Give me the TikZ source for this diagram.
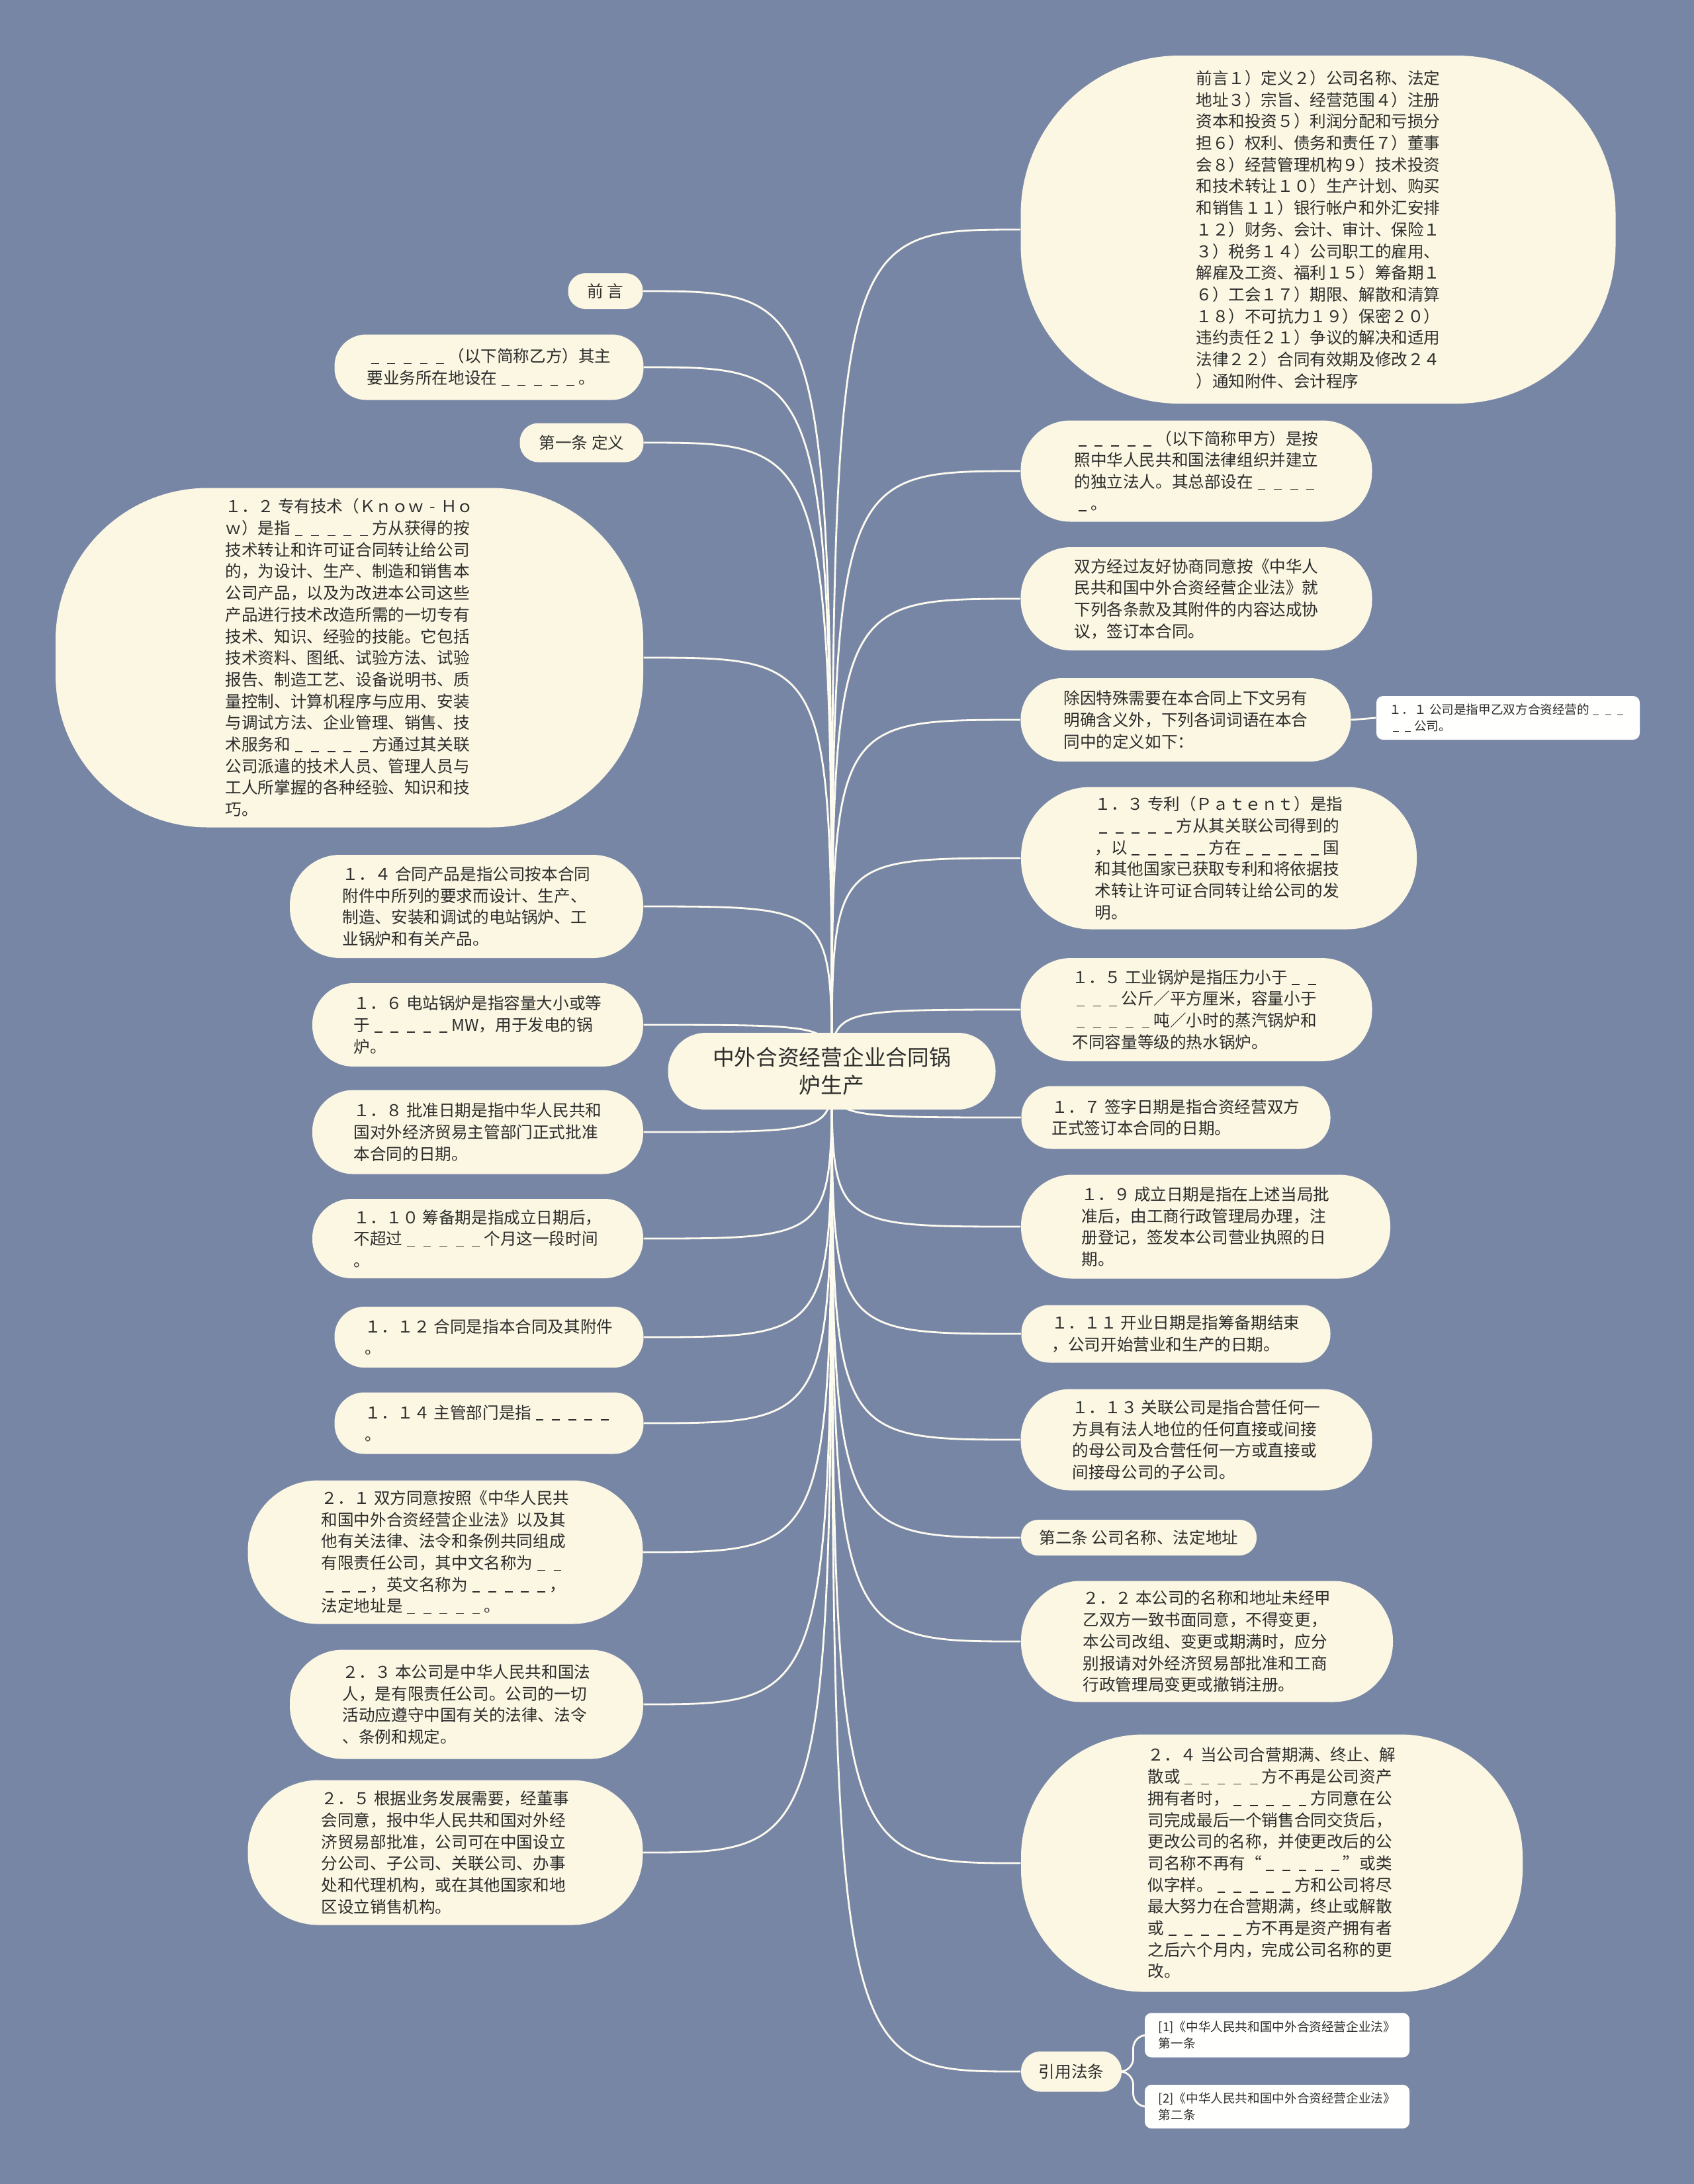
\documentclass[tikz,border=0pt]{standalone}
\usepackage{fontspec}
\setmainfont{Noto Sans CJK SC}
\usetikzlibrary{calc}
\definecolor{bgcol}{RGB}{120,134,166}
\definecolor{leafcol}{RGB}{251,247,226}
\definecolor{linkcol}{RGB}{253,251,240}
\definecolor{inkcol}{RGB}{45,45,45}
\definecolor{notecol}{RGB}{255,255,253}
\newcommand\udash{\makebox[1em][c]{\rule[-0.1em]{0.48em}{0.06em}}}
\newcommand\udashes{\udash\udash\udash\udash\udash}
\pgfdeclarelayer{bg}
\pgfsetlayers{bg,main}
\tikzset{
  leaf/.style n args={3}{fill=leafcol, text=inkcol, align=left, inner sep=0pt,
    font=\fontsize{7}{9.3}\selectfont,
    minimum width=#1cm, minimum height=#2cm, rounded corners=#3cm},
  note/.style n args={2}{fill=notecol, text=inkcol, align=left, inner sep=0pt,
    font=\fontsize{5.3}{7.2}\selectfont,
    minimum width=#1cm, minimum height=#2cm, rounded corners=0.1cm},
  link/.style={draw=linkcol, line width=0.8pt},
}
\begin{document}
\begin{tikzpicture}
  \useasboundingbox (0,0) rectangle (25.60,-33.01);
  \begin{pgfonlayer}{bg}
    \fill[bgcol] (0,0) rectangle (25.60,-33.01);
  \end{pgfonlayer}

  % root
  \node[leaf={4.95}{1.16}{0.57}, align=center, font=\fontsize{9.3}{12}\selectfont]
    (root) at (12.57,-16.19) {中外合资经营企业合同锅\\炉生产};

  % left branch
  \node[leaf={1.13}{0.54}{0.26}] (pre) at (9.15,-4.40) {前 言};
  \node[leaf={4.67}{0.99}{0.48}] (yi) at (7.39,-5.55)
    {\udashes（以下简称乙方）其主\\要业务所在地设在\udashes。};
  \node[leaf={1.87}{0.59}{0.28}] (art1) at (8.79,-6.69) {第一条 定义};
  \node[leaf={8.88}{5.13}{2.3}] (kh) at (5.28,-9.94)
    {１．２ 专有技术（Ｋｎｏｗ\makebox[1em]{-}Ｈｏ\\ｗ）是指\udashes 方从获得的按\\
     技术转让和许可证合同转让给公司\\的，为设计、生产、制造和销售本\\
     公司产品，以及为改进本公司这些\\产品进行技术改造所需的一切专有\\
     技术、知识、经验的技能。它包括\\技术资料、图纸、试验方法、试验\\
     报告、制造工艺、设备说明书、质\\量控制、计算机程序与应用、安装\\
     与调试方法、企业管理、销售、技\\术服务和\udashes 方通过其关联\\
     公司派遣的技术人员、管理人员与\\工人所掌握的各种经验、知识和技\\巧。};
  \node[leaf={5.34}{1.56}{0.76}] (p14) at (7.05,-13.70)
    {１．４ 合同产品是指公司按本合同\\附件中所列的要求而设计、生产、\\
     制造、安装和调试的电站锅炉、工\\业锅炉和有关产品。};
  \node[leaf={5.00}{1.26}{0.62}] (p16) at (7.22,-15.49)
    {１．６ 电站锅炉是指容量大小或等\\于\udashes MW，用于发电的锅\\炉。};
  \node[leaf={5.00}{1.27}{0.62}] (p18) at (7.22,-17.11)
    {１．８ 批准日期是指中华人民共和\\国对外经济贸易主管部门正式批准\\本合同的日期。};
  \node[leaf={5.00}{1.20}{0.59}] (p110) at (7.22,-18.72)
    {１．１０ 筹备期是指成立日期后，\\不超过\udashes 个月这一段时间\\。};
  \node[leaf={4.67}{0.92}{0.45}] (p112) at (7.39,-20.21)
    {１．１２ 合同是指本合同及其附件\\。};
  \node[leaf={4.67}{0.93}{0.45}] (p114) at (7.39,-21.51)
    {１．１４ 主管部门是指\udashes\\。};
  \node[leaf={5.97}{2.17}{1.06}] (p21) at (6.73,-23.46)
    {２．１ 双方同意按照《中华人民共\\和国中外合资经营企业法》以及其\\
     他有关法律、法令和条例共同组成\\有限责任公司，其中文名称为\udash\udash\\
     \udash\udash\udash，英文名称为\udashes，\\法定地址是\udashes。};
  \node[leaf={5.34}{1.65}{0.80}] (p23) at (7.05,-25.76)
    {２．３ 本公司是中华人民共和国法\\人，是有限责任公司。公司的一切\\
     活动应遵守中国有关的法律、法令\\、条例和规定。};
  \node[leaf={5.97}{2.19}{1.07}] (p25) at (6.73,-28.00)
    {２．５ 根据业务发展需要，经董事\\会同意，报中华人民共和国对外经\\
     济贸易部批准，公司可在中国设立\\分公司、子公司、关联公司、办事\\
     处和代理机构，或在其他国家和地\\区设立销售机构。};

  % right branch
  \node[leaf={8.99}{5.26}{2.4}] (toc) at (19.92,-3.47)
    {前言１）定义２）公司名称、法定\\地址３）宗旨、经营范围４）注册\\
     资本和投资５）利润分配和亏损分\\担６）权利、债务和责任７）董事\\
     会８）经营管理机构９）技术投资\\和技术转让１０）生产计划、购买\\
     和销售１１）银行帐户和外汇安排\\１２）财务、会计、审计、保险１\\
     ３）税务１４）公司职工的雇用、\\解雇及工资、福利１５）筹备期１\\
     ６）工会１７）期限、解散和清算\\１８）不可抗力１９）保密２０）\\
     违约责任２１）争议的解决和适用\\法律２２）合同有效期及修改２４\\
     ）通知附件、会计程序};
  \node[leaf={5.31}{1.53}{0.75}] (jia) at (18.08,-7.12)
    {\udashes（以下简称甲方）是按\\照中华人民共和国法律组织并建立\\
     的独立法人。其总部设在\udash\udash\udash\udash\\\udash。};
  \node[leaf={5.31}{1.56}{0.76}] (both) at (18.08,-9.05)
    {双方经过友好协商同意按《中华人\\民共和国中外合资经营企业法》就\\
     下列各条款及其附件的内容达成协\\议，签订本合同。};
  \node[leaf={4.99}{1.26}{0.62}] (defs) at (17.92,-10.88)
    {除因特殊需要在本合同上下文另有\\明确含义外，下列各词词语在本合\\同中的定义如下：};
  \node[note={3.98}{0.66}] (p11) at (22.79,-10.85)
    {１．１ 公司是指甲乙双方合资经营的\udash\udash\udash\\\udash\udash 公司。};
  \node[leaf={5.98}{2.15}{1.05}] (p13) at (18.42,-12.97)
    {１．３ 专利（Ｐａｔｅｎｔ）是指\\\udashes 方从其关联公司得到的\\
     ，以\udashes 方在\udashes 国\\和其他国家已获取专利和将依据技\\
     术转让许可证合同转让给公司的发\\明。};
  \node[leaf={5.31}{1.56}{0.76}] (p15) at (18.08,-15.26)
    {１．５ 工业锅炉是指压力小于\udash\udash\\\udash\udash\udash 公斤／平方厘米，容量小于\\
     \udashes 吨／小时的蒸汽锅炉和\\不同容量等级的热水锅炉。};
  \node[leaf={4.67}{0.95}{0.46}] (p17) at (17.77,-16.89)
    {１．７ 签字日期是指合资经营双方\\正式签订本合同的日期。};
  \node[leaf={5.58}{1.57}{0.77}] (p19) at (18.22,-18.54)
    {１．９ 成立日期是指在上述当局批\\准后，由工商行政管理局办理，注\\
     册登记，签发本公司营业执照的日\\期。};
  \node[leaf={4.67}{0.87}{0.42}] (p111) at (17.77,-20.16)
    {１．１１ 开业日期是指筹备期结束\\，公司开始营业和生产的日期。};
  \node[leaf={5.31}{1.53}{0.75}] (p113) at (18.08,-21.76)
    {１．１３ 关联公司是指合营任何一\\方具有法人地位的任何直接或间接\\
     的母公司及合营任何一方或直接或\\间接母公司的子公司。};
  \node[leaf={3.56}{0.54}{0.26}] (art2) at (17.21,-23.24) {第二条 公司名称、法定地址};
  \node[leaf={5.62}{1.83}{0.90}] (p22) at (18.24,-24.81)
    {２．２ 本公司的名称和地址未经甲\\乙双方一致书面同意，不得变更，\\
     本公司改组、变更或期满时，应分\\别报请对外经济贸易部批准和工商\\
     行政管理局变更或撤销注册。};
  \node[leaf={7.58}{3.89}{1.85}] (p24) at (19.22,-28.16)
    {２．４ 当公司合营期满、终止、解\\散或\udashes 方不再是公司资产\\
     拥有者时，\udashes 方同意在公\\司完成最后一个销售合同交货后，\\
     更改公司的名称，并使更改后的公\\司名称不再有“\udashes”或类\\
     似字样。\udashes 方和公司将尽\\最大努力在合营期满，终止或解散\\
     或\udashes 方不再是资产拥有者\\之后六个月内，完成公司名称的更\\改。};
  \node[leaf={1.52}{0.61}{0.30}] (cite) at (16.19,-31.31) {引用法条};
  \node[note={4.00}{0.67}] (ref1) at (19.30,-30.76)
    {[1]《中华人民共和国中外合资经营企业法》\\第一条};
  \node[note={4.00}{0.66}] (ref2) at (19.30,-31.84)
    {[2]《中华人民共和国中外合资经营企业法》\\第二条};

  % connectors
  \begin{pgfonlayer}{bg}
    \foreach \c in {pre,yi,art1,kh,p14,p16,p18,p110,p112,p114,p21,p23,p25}
      \draw[link] (root.center) .. controls (root.center |- \c.east) .. (\c.east);
    \foreach \c in {toc,jia,both,defs,p13,p15,p17,p19,p111,p113,art2,p22,p24,cite}
      \draw[link] (root.center) .. controls (root.center |- \c.west) .. (\c.west);
    \draw[link] (defs.east) -- (p11.west);
    \coordinate (citejn) at ($(cite.east)!0.5!(cite.east -| ref1.west)$);
    \draw[link, rounded corners=0.2cm] (cite.east) -- (citejn) |- (ref1.west);
    \draw[link, rounded corners=0.2cm] (cite.east) -- (citejn) |- (ref2.west);
  \end{pgfonlayer}
\end{tikzpicture}
\end{document}
